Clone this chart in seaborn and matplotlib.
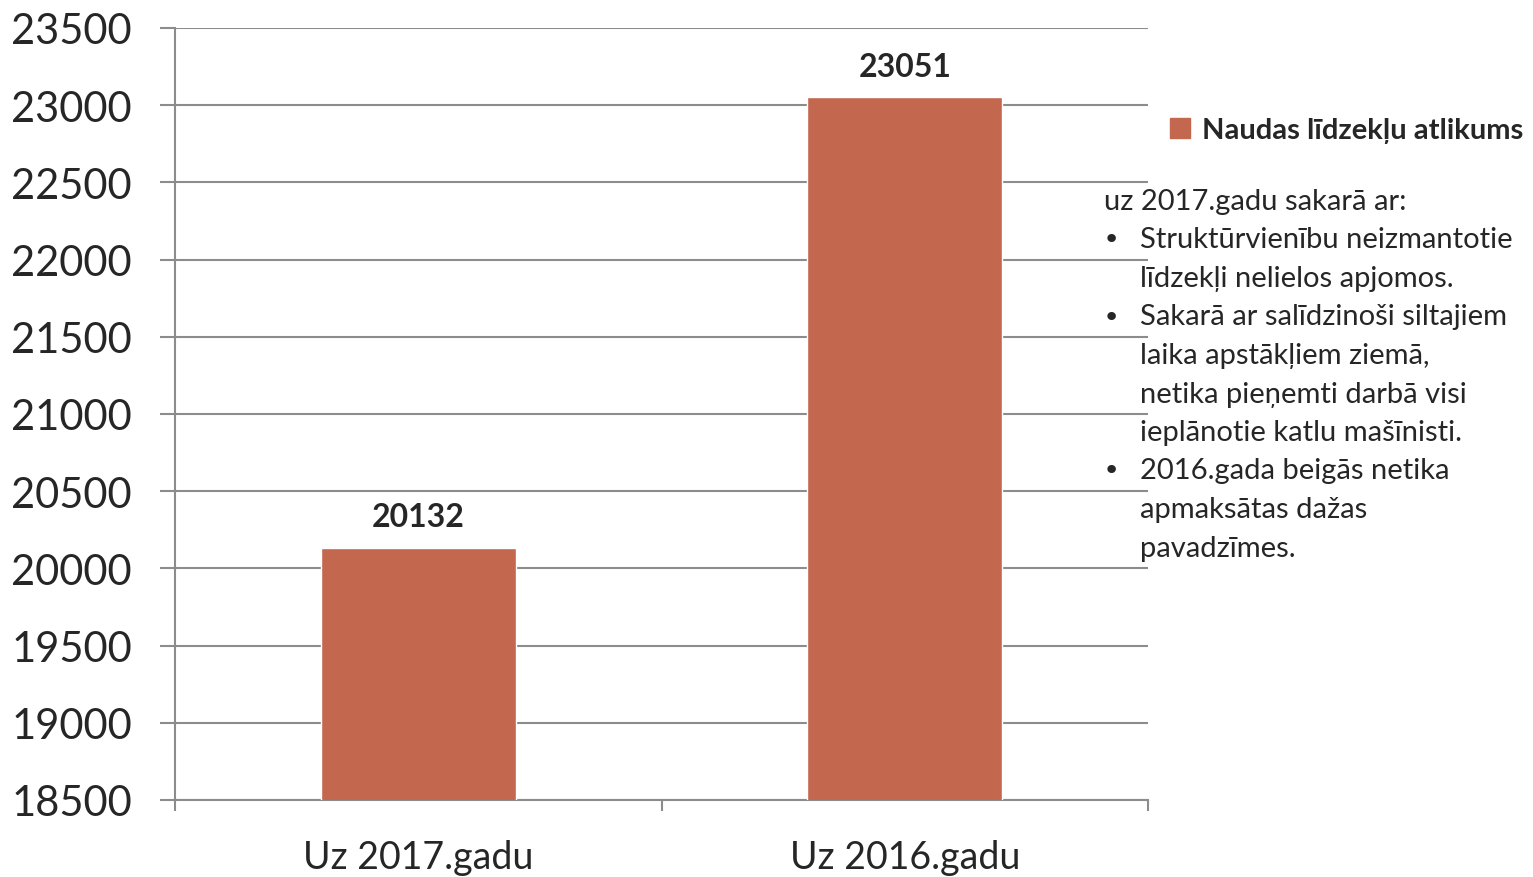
import matplotlib
matplotlib.use("Agg")
import matplotlib.pyplot as plt
import matplotlib.patches as mpatches
import seaborn as sns
import pandas as pd

categories = ["Uz 2017.gadu", "Uz 2016.gadu"]
values = [20132, 23051]
series_name = "Naudas līdzekļu atlikums"
y_ticks = list(range(18500, 24000, 500))
note_lines = [
    ("", "uz 2017.gadu sakarā ar:"),
    ("•", "Struktūrvienību neizmantotie"),
    ("", "līdzekļi nelielos apjomos."),
    ("•", "Sakarā ar salīdzinoši siltajiem"),
    ("", "laika apstākļiem ziemā,"),
    ("", "netika pieņemti darbā visi"),
    ("", "ieplānotie katlu mašīnisti."),
    ("•", "2016.gada beigās netika"),
    ("", "apmaksātas dažas"),
    ("", "pavadzīmes."),
]

BAR = "#C4674F"
GRID = "#8C8C8C"

sns.set_theme(style="white")
plt.rcParams["font.family"] = ["Lato", "DejaVu Sans"]

df = pd.DataFrame({"cat": categories, "val": values})

W, H = 1533, 878
fig = plt.figure(figsize=(W / 100, H / 100), dpi=100)
ax = fig.add_axes([175 / W, 1 - 801 / H, (1148 - 175) / W, (801 - 29) / H])

sns.barplot(data=df, x="cat", y="val", color=BAR, width=0.4, ax=ax,
            saturation=1, zorder=3)

ax.set_ylim(18500, 23500)
ax.set_xlim(-0.5, 1.5)
ax.set_yticks(y_ticks)
ax.set_yticklabels([str(t) for t in y_ticks])
ax.yaxis.grid(True, color=GRID, linewidth=1.5, zorder=0)
ax.set_axisbelow(True)
ax.set_xlabel("")
ax.set_ylabel("")

for s in ["top", "right"]:
    ax.spines[s].set_visible(False)
for s in ["left", "bottom"]:
    ax.spines[s].set_color(GRID)
    ax.spines[s].set_linewidth(1.5)

ax.tick_params(axis="y", which="major", direction="out", length=11, width=1.5,
               color=GRID, labelsize=30, pad=20, left=True)
ax.tick_params(axis="x", which="major", length=0, labelsize=27, pad=28)
ax.set_xticks([-0.5, 0.5, 1.5], minor=True)
ax.tick_params(axis="x", which="minor", direction="out", length=8, width=1.5,
               color=GRID, bottom=True)

for c in ax.containers:
    ax.bar_label(c, labels=[str(v) for v in values], padding=12,
                 fontsize=23, fontweight="bold")

handle = mpatches.Patch(color=BAR, label=series_name)
fig.legend(handles=[handle], loc="center left",
           bbox_to_anchor=(1170 / W, 1 - 131 / H), frameon=False,
           prop={"size": 21, "weight": "bold"}, handlelength=0.7,
           handleheight=0.7, handletextpad=0.4, borderpad=0, borderaxespad=0)

base = 210
step = 38.5
FS = 21
for i, (bullet, text) in enumerate(note_lines):
    yb = 1 - (base + i * step) / H
    if bullet == "" and i == 0:
        fig.text(1104 / W, yb, text, fontsize=FS, va="baseline", ha="left")
    else:
        if bullet:
            fig.text(1103 / W, yb, bullet, fontsize=FS, va="baseline", ha="left",
                     family="DejaVu Sans")
        fig.text(1140 / W, yb, text, fontsize=FS, va="baseline", ha="left")

fig.savefig("out.png", dpi=100, facecolor="white")
